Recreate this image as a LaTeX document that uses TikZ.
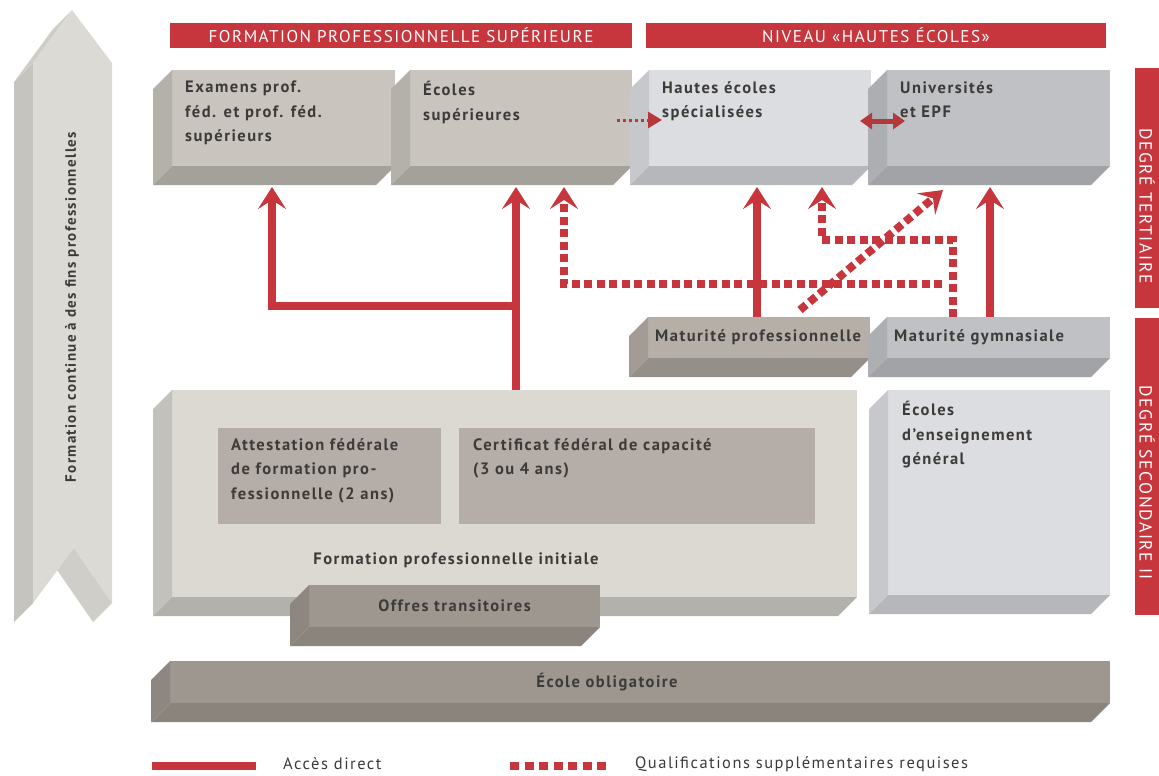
\documentclass[tikz,border=0pt]{standalone}
\usepackage{fontspec}
\setmainfont{PT Sans}[LetterSpace=9]
\usepackage{tikz}
\usetikzlibrary{calc,arrows.meta,positioning}

\definecolor{rouge}{HTML}{C8363D}
\definecolor{rougef}{HTML}{B3393C}
\definecolor{texte}{HTML}{3D3B3A}
\definecolor{taupe}{HTML}{C9C5BE}
\definecolor{taupeS}{HTML}{B4B0AA}
\definecolor{taupeB}{HTML}{A4A09A}
\definecolor{clair}{HTML}{DCDDE0}
\definecolor{clairS}{HTML}{C7C8CB}
\definecolor{clairB}{HTML}{B6B7BA}
\definecolor{gris}{HTML}{C0C1C4}
\definecolor{grisS}{HTML}{ADAEB1}
\definecolor{grisB}{HTML}{A2A3A6}
\definecolor{mat}{HTML}{B6AFA8}
\definecolor{matS}{HTML}{A39C96}
\definecolor{matB}{HTML}{958F89}
\definecolor{beige}{HTML}{DCD9D2}
\definecolor{beigeS}{HTML}{C3C1BB}
\definecolor{beigeB}{HTML}{B3B1AB}
\definecolor{cert}{HTML}{B5ADA7}
\definecolor{fonce}{HTML}{9E9790}
\definecolor{onceS}{HTML}{8E8781}
\definecolor{onceB}{HTML}{8A847D}
\definecolor{fleche}{HTML}{DCDAD4}
\definecolor{flecheS}{HTML}{C5C4BF}
\definecolor{flecheT}{HTML}{CFCDC8}
\definecolor{flecheN}{HTML}{D0CEC8}

\tikzset{
  face/.style={anchor=north west, inner sep=0pt, outer sep=0pt},
  txt/.style={font=\bfseries\fontsize{16.5}{24.5}\selectfont, text=texte, align=left, inner sep=0pt},
  bandeau/.style={fill=rouge, text=white, font=\fontsize{17}{17}\selectfont, inner sep=0pt},
  acces/.style={draw=rouge, line width=8pt, -{Stealth[length=22pt,width=28pt,inset=9pt]}},
  requis/.style={acces, dash pattern=on 8pt off 4.5pt},
  legende/.style={font=\fontsize{16.5}{16.5}\selectfont, text=texte, inner sep=0pt, anchor=west},
}

% name, x, y, width, height, front, side, bottom
\newcommand\pave[8]{%
  \node[face, fill=#6, minimum width=#4pt, minimum height=#5pt] (#1) at (#2,#3) {};
  \fill[#7] (#1.north west) -- ++(-19,19) -- ($(#1.south west)+(-19,19)$) -- (#1.south west) -- cycle;
  \fill[#8] (#1.south west) -- ++(-19,19) -- ($(#1.south east)+(-19,19)$) -- (#1.south east) -- cycle;
}

\begin{document}
\begin{tikzpicture}[x=1pt,y=-1pt]
  \useasboundingbox (0,0) rectangle (1159,776);

  \fill[flecheS] (33,63) -- (33,603) -- (14,622) -- (14,82) -- cycle;
  \fill[flecheT] (72,10) -- (33,63) -- (14,82) -- (53,29) -- cycle;
  \fill[flecheN] (74,548) -- (112,603) -- (93,622) -- (55,567) -- cycle;
  \fill[fleche] (72,10) -- (112,63) -- (112,603) -- (74,548) -- (33,603) -- (33,63) -- cycle;
  \node[txt, font=\bfseries\fontsize{15}{15}\selectfont, rotate=90] (fc) at (72,307) {Formation continue à des fins professionnelles};

  \node[bandeau, face, minimum width=462pt, minimum height=25pt] (fps) at (170,23) {};
  \node[text=white, font=\fontsize{17}{17}\selectfont] (fps-t) at (fps.center) {FORMATION PROFESSIONNELLE SUPÉRIEURE};
  \node[bandeau, face, minimum width=460pt, minimum height=25pt] (nhe) at (646,23) {};
  \node[text=white, font=\fontsize{17}{17}\selectfont] (nhe-t) at (nhe.center) {NIVEAU «HAUTES ÉCOLES»};
  \node[bandeau, face, minimum width=24pt, minimum height=240pt] (tert) at (1135,68) {};
  \node[text=white, font=\fontsize{17.5}{17.5}\selectfont, rotate=-90] (tert-t) at (1147,206) {DEGRÉ TERTIAIRE};
  \node[bandeau, face, minimum width=24pt, minimum height=297pt] (sec) at (1135,318) {};
  \node[text=white, font=\fontsize{17.5}{17.5}\selectfont, rotate=-90] (sec-t) at (1147,483) {DEGRÉ SECONDAIRE II};

  \pave{ex}{172}{70}{223}{96}{taupe}{taupeS}{taupeB}
  \pave{es}{410}{70}{222}{96}{taupe}{taupeS}{taupeB}
  \pave{hes}{649}{70}{222}{96}{clair}{clairS}{clairB}
  \pave{uni}{887}{70}{223}{96}{gris}{grisS}{grisB}
  \pave{mp}{648}{317}{222}{41}{mat}{matS}{matB}
  \pave{mg}{887}{317}{223}{41}{gris}{grisS}{grisB}
  \pave{fpi}{172}{390}{685}{207}{beige}{beigeS}{beigeB}
  \pave{ot}{309}{585}{291}{42}{fonce}{onceS}{onceB}
  \pave{eeg}{888}{390}{222}{205}{clair}{clairS}{clairB}
  \pave{eo}{170}{661}{940}{42}{fonce}{onceS}{onceB}
  \node[face, fill=cert, minimum width=223pt, minimum height=96pt] (att) at (218,428) {};
  \node[face, fill=cert, minimum width=356pt, minimum height=96pt] (cfc) at (459,428) {};

  \node[txt, below right=11pt and 13pt of ex.north west] (ex-t) {Examens prof.\\féd. et prof. féd.\\supérieurs};
  \node[txt, below right=11pt and 13pt of es.north west] (es-t) {Écoles\\supérieures};
  \node[txt, below right=11pt and 13pt of hes.north west] (hes-t) {Hautes écoles\\spécialisées};
  \node[txt, below right=11pt and 13pt of uni.north west] (uni-t) {Universités\\et EPF};
  \node[txt, right=7pt of mp.west] (mp-t) {Maturité professionnelle};
  \node[txt, right=7pt of mg.west] (mg-t) {Maturité gymnasiale};
  \node[txt, below right=11pt and 14pt of eeg.north west] (eeg-t) {Écoles\\d’enseignement\\général};
  \node[txt, below right=10pt and 13pt of att.north west] (att-t) {Attestation fédérale\\de formation pro-\\fessionnelle (2 ans)};
  \node[txt, below right=10pt and 14pt of cfc.north west] (cfc-t) {Certificat fédéral de capacité\\(3 ou 4 ans)};
  \node[txt] (fpi-t) at (456,560) {Formation professionnelle initiale};
  \node[txt] (ot-t) at (ot.center) {Offres transitoires};
  \node[txt] (eo-t) at (607,682) {École obligatoire};

  \draw[rougef, line width=3pt, dash pattern=on 3pt off 3pt, -{Triangle[length=14pt,width=16pt]}] ($(es.east)+(-15,2)$) -- ($(hes.west)+(13,2)$);
  \draw[rougef, line width=5pt, {Triangle[length=12pt,width=16pt]}-{Triangle[length=12pt,width=16pt]}] ($(hes.east)+(-11,3)$) -- ($(uni.west)+(18,3)$);

  \coordinate (ex-b) at (272,187);
  \coordinate (es-b) at (516,187);
  \coordinate (jonc) at (516,306);
  \coordinate (es-d) at (564,187);
  \coordinate (hes-b) at (757,187);
  \coordinate (hes-d) at (822,187);
  \coordinate (uni-d) at (943,190);
  \coordinate (uni-b) at (990,187);
  \coordinate (q1) at (942,284);
  \coordinate (q2) at (953,240);
  \coordinate (q3) at (800,310);

  \draw[requis] (q1) -| (es-d);
  \draw[requis] (mg.north -| q2) -- (q2) -| (hes-d);
  \draw[requis] (q3) -- (uni-d);
  \draw[acces] (fpi.north -| es-b) -- (es-b);
  \draw[acces] (jonc) -| (ex-b);
  \draw[acces] (mp.north -| hes-b) -- (hes-b);
  \draw[acces] (mg.north -| uni-b) -- (uni-b);

  \node[legende] (ad) at (283,764) {Accès direct};
  \node[legende] (qs) at (635,764) {Qualifications supplémentaires requises};
  \draw[rouge, line width=8pt] ($(ad.west)+(-131,2)$) -- ($(ad.west)+(-27,2)$);
  \draw[rouge, line width=8pt, dash pattern=on 9pt off 5.5pt] ($(qs.west)+(-125,2)$) -- ($(qs.west)+(-25,2)$);
\end{tikzpicture}
\end{document}
